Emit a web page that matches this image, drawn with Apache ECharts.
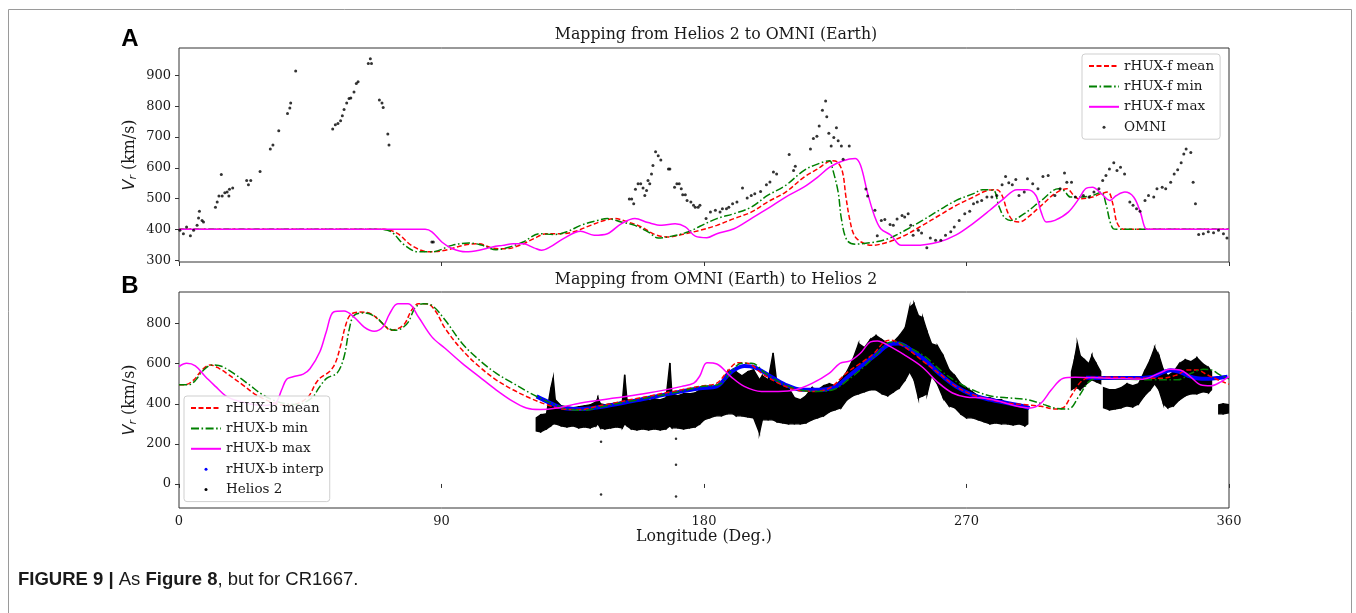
<!DOCTYPE html>
<html lang="en">
<head>
<meta charset="UTF-8">
<title>Figure 9</title>
<script src="https://cdn.jsdelivr.net/npm/echarts@6/dist/echarts.min.js"></script>
<style>
  body { margin: 0; background: #fff; }
  #main { width: 1356px; height: 613px; }
</style>
</head>
<body>
<div id="main"></div>
<script type="text/javascript">
// ---- axis ticks ----
var xTicks = [0, 90, 180, 270, 360];
var yTicksTop = [300, 400, 500, 600, 700, 800, 900];
var yTicksBottom = [0, 200, 400, 600, 800];

// ---- panel A : Helios 2 -> OMNI ----
var omni = [[0.3,397],[1.5,386],[2.6,408],[3.9,379],[5,397],[6.2,413],[6.7,437],[7,459],[7.9,429],[8.4,424],
  [12.5,472],[13.1,489],[13.7,508],[14.5,578],[14.8,508],[15.7,519],[16.5,521],[17.1,508],[17.3,530],[18.4,534],
  [23.2,559],[23.8,545],[24.6,559],[27.8,588],[31.3,661],[32.2,674],[34.2,720],[37.2,776],[38,794],[38.3,810],[40,914],
  [52.7,726],[53.6,740],[54.5,744],[55.4,753],[56,769],[56.6,789],[57.5,810],[58.3,825],[58.9,827],[60,846],[60.8,874],
  [61.4,879],[64.9,939],[66,939],[65.6,954],[68.7,820],[69.6,810],[70,796],[71.6,710],[72,674],[86.7,359],[87.2,359],
  [154.4,499],[155.2,499],[155.9,483],[156.5,530],[157.4,548],[158.3,548],[159.1,534],[159.7,510],[160.3,526],[160.8,559],
  [161.4,548],[162,580],[162.5,607],[163.4,652],[164.3,639],[165.2,625],[167.8,596],[168.3,596],[169.9,537],[170.7,548],
  [171.5,548],[172.2,532],[172.7,512],[173.6,512],[174.2,494],[175.5,489],[176.4,478],[177,472],[178,472],[178.6,478],
  [180.7,435],[182.2,456],[183.9,462],[185.5,456],[186.3,467],[187.7,467],[188.5,472],[189.8,483],[191.3,489],[193.2,534],
  [194.8,502],[196.2,510],[197.4,516],[199.4,523],[201.4,545],[202.6,554],[203.8,586],[204.9,580],[209.2,643],[210.7,591],
  [211.3,605],[216.5,661],[217.5,695],[218.7,702],[219.5,736],[220.6,787],[221.7,817],[222.1,766],[222.8,712],[223.6,671],
  [224.5,698],[225.4,730],[226,688],[227.1,671],[229.8,671],[227.7,628],[235.5,531],[236.1,508],[238.6,462],[239.4,379],
  [240.8,429],[242,432],[243.8,416],[244.9,413],[246.2,434],[247.9,445],[248.8,440],[250,451],[250.9,413],[251.7,381],
  [253.5,397],[254.6,388],[256.4,340],[257.6,372],[259.4,365],[261.2,365],[262.8,381],[264.6,392],[265.8,408],[267.5,429],
  [269.4,451],[271.1,459],[272.4,483],[273.7,489],[275.2,494],[277,505],[278.7,505],[280.4,510],[282.2,545],[283.4,572],
  [284.5,551],[285.7,545],[286.9,562],[288,510],[289.8,521],[290.9,564],[292.7,548],[294.5,532],[296.2,572],[298,575],
  [300.3,510],[302.1,532],[303.6,583],[304.4,553],[306,553],[307.3,505],[310.1,510],[312,505],[313.7,521],[315.4,532],
  [316.7,559],[317.8,575],[319,596],[320.5,616],[321.6,591],[322.8,602],[324.2,580],[326,489],[327.1,478],[328.3,467],
  [329.5,459],[331.2,494],[332.4,510],[334.2,505],[335.3,532],[337.1,537],[338.3,532],[340,553],[341.2,580],[342.4,594],
  [343.6,616],[344.5,645],[345.3,661],[346.9,650],[347.7,553],[348.5,483],[349.6,383],[351.2,386],[352.9,392],[354.7,389],
  [356.4,397],[358.1,386],[359.3,372]];

var fMean = [[0,400],[20,400],[40,400],[60,400],[70.5,400],[75,386],[79.7,348],[85.5,327],[91.3,332],[98.3,350],
  [102.9,353],[107.5,339],[112.1,337],[116.8,348],[121.7,370],[126,386],[130.7,386],[135.4,392],[141.1,413],[145.8,429],
  [149.3,435],[153.9,424],[158.5,408],[163.2,383],[167.8,375],[172.4,383],[178.6,397],[184.4,413],[190.3,435],[196.2,456],
  [201.8,489],[208,521],[214.2,569],[218.9,596],[224,623],[225.8,618],[227.5,586],[228.6,510],[229.9,435],[231.5,381],
  [233.9,359],[237.4,348],[243.2,359],[249,381],[254.9,413],[260.6,445],[266.5,478],[272.4,505],[277,526],[280.4,529],
  [282.2,510],[284.1,456],[285.9,429],[288.2,424],[291.1,440],[295.7,478],[300.3,516],[304.4,532],[306.8,510],[308.5,499],
  [313.2,505],[316.2,516],[318.5,521],[320.3,478],[321.5,424],[323.2,402],[325,400],[340,400],[360,400]];

var fMin = [[0,400],[20,400],[40,400],[60,400],[69.3,400],[72.8,392],[77.4,348],[82,327],[86.7,327],[93.6,348],
  [99.4,356],[104,348],[108.7,334],[113.4,343],[118,359],[123.7,386],[128.4,383],[133,392],[137.7,413],[143.5,429],
  [146.9,435],[151.6,424],[156.3,413],[160.8,392],[164.3,372],[169,378],[174.7,392],[178.6,410],[184.4,435],[190.3,451],
  [196.2,472],[201.8,510],[208,543],[214.2,591],[218.9,612],[223.1,623],[224.1,596],[226,521],[227.1,435],[229,365],
  [231.9,352],[237.4,357],[243.2,370],[249,397],[254.9,429],[260.6,462],[266.5,494],[272.4,516],[275.6,529],[279.3,526],
  [281,478],[282.9,440],[285.1,429],[289.8,451],[295.7,494],[301.5,532],[303.4,526],[305.6,505],[308.5,505],[313.2,510],
  [316.2,521],[317.8,483],[319.1,429],[320.3,402],[321.5,400],[340,400],[360,400]];

var fMax = [[0,400],[20,400],[40,400],[60,400],[80,400],[84.4,400],[86.7,392],[90.1,359],[93.6,338],[98.3,327],
  [102.9,332],[107.5,343],[111,348],[114.6,353],[118,353],[121.7,340],[124.3,332],[127.3,343],[131.8,370],[137.7,394],
  [142.3,381],[146.9,386],[151.6,418],[156.3,435],[160.8,422],[165.5,413],[170.1,418],[173.6,408],[177,378],[181,373],
  [184.4,386],[190.3,402],[196.2,435],[201.8,467],[208,505],[214.2,537],[218.9,569],[223.1,602],[227.7,623],[231.9,630],
  [233.7,607],[236,521],[238.4,445],[240.6,402],[244.1,381],[247.6,348],[252.3,348],[260.5,359],[266.3,381],[272.1,418],
  [278,462],[282.7,499],[287.3,529],[290.9,529],[293.8,510],[295.6,456],[297.4,424],[300.3,429],[304.9,456],[308.5,499],
  [310.8,532],[313.2,537],[316.2,516],[319.1,494],[321.4,510],[324.3,521],[327.3,505],[329.6,456],[331.4,402],[332.5,400],
  [345,400],[360,400]];

// ---- panel B : OMNI -> Helios 2 ----
var bMean = [[0,495],[2,495],[5.1,520],[7.9,569],[10.7,594],[13.7,577],[17.1,544],[21.8,495],[26.4,445],[31,412],
  [34,397],[37,392],[40.5,400],[44.4,437],[46.8,500],[48.5,530],[51.5,560],[53.5,600],[55.4,690],[57.1,790],[58.8,845],
  [61.8,858],[65.8,849],[69.3,808],[72.8,767],[75,775],[77.4,800],[79.7,866],[82.1,899],[85,899],[87.8,866],[91.3,775],
  [97.1,668],[102.9,586],[108.7,520],[114.5,470],[120.3,429],[126,396],[131.8,374],[137.7,371],[143.5,388],[149.3,404],
  [155,421],[160.8,437],[166.6,454],[172.4,470],[178.6,488],[184.4,503],[188,561],[191.5,605],[195,602],[199.7,553],
  [205.5,503],[211.4,470],[217.2,462],[223,478],[228.8,553],[233.6,602],[238.3,652],[241.8,709],[244.1,717],[248.8,684],
  [254.6,618],[260.5,553],[266.3,487],[272.1,445],[278,421],[283.8,404],[289.6,396],[295.5,388],[300.2,374],[303,379],
  [305.8,437],[309.3,511],[312.9,533],[318.6,533],[330.4,528],[337.3,528],[342.1,544],[345.7,569],[349.1,569],[352.6,544],
  [354.9,528],[359,503],[360,498]];

var bMin = [[0,495],[3.2,495],[5.6,516],[7.9,561],[11.4,594],[14.8,586],[19.5,544],[24.1,495],[28.7,445],[33.4,412],
  [37,400],[40.5,396],[43.5,410],[46.1,437],[47.9,478],[50.7,528],[54.2,553],[56.6,635],[58.3,767],[60,841],[63.5,853],
  [67.5,833],[71.1,783],[73.9,767],[76.2,775],[78.6,808],[81.1,882],[83.8,899],[86.7,891],[91.3,817],[97.1,701],
  [102.9,619],[108.7,553],[114.5,503],[120.3,454],[124.9,421],[129.6,391],[134.2,371],[138.8,368],[144.6,384],[150.4,401],
  [156.2,417],[162,434],[167.8,450],[173.6,467],[178.6,485],[185.7,500],[189.3,561],[192.9,602],[196.4,602],[201,553],
  [206.7,503],[212.6,470],[218.4,462],[224.2,470],[230.1,528],[234.9,586],[239.5,652],[243,704],[245.8,709],[249.9,684],
  [255.8,635],[261.6,561],[267.4,503],[273.3,462],[279.1,437],[284.9,429],[290.9,421],[296.6,396],[300.2,379],[304.9,374],
  [308.5,437],[312,511],[314.9,528],[325.1,523],[334.2,520],[342.4,520],[347.1,553],[351.2,572],[353.9,569],[356.9,544],
  [359.2,528],[360,525]];

var bMax = [[0,586],[2.6,602],[5.6,589],[9,536],[12.5,487],[16,440],[20,415],[25,398],[29,392],[32,398],[33.5,410],
  [35.2,470],[36.9,522],[39.1,535],[42.6,548],[44.9,575],[48.3,660],[50.5,760],[53,858],[56.6,863],[60,833],[63.5,783],
  [66.9,762],[69.9,783],[72.2,849],[75,899],[78.6,899],[82.1,833],[86.7,734],[91.3,676],[97.1,602],[102.9,536],[108.7,470],
  [114.5,412],[119.1,379],[123.7,371],[129.6,379],[137.7,404],[149.3,429],[160.8,454],[172.4,487],[176.5,503],[178.6,540],
  [181,605],[184.4,599],[189.2,536],[193.8,487],[199.7,462],[205.5,462],[211.4,470],[217.2,503],[223,553],[226.6,602],
  [230.1,614],[233.6,652],[237.1,709],[239.4,714],[244.1,684],[248.8,643],[254.6,586],[260.5,503],[265.2,454],[269.8,434],
  [275.6,429],[281.5,412],[287.3,388],[292,379],[295.6,404],[299.1,470],[303.2,528],[307.3,533],[318.6,528],[330.4,523],
  [336.2,553],[339.7,572],[343.2,569],[346.7,536],[350.2,495],[353.8,490],[357.4,511],[359.2,528],[360,535]];

var bInterpA = [[122.6,437],[127.3,404],[131.8,379],[137.7,374],[149.3,396],[160.8,429],[172.4,462],[178.6,478],
  [184.4,487],[188,540],[190.3,569],[193.8,589],[197.4,582],[202,544],[207.9,495],[213.7,470],[219.5,470],[225.3,487],
  [230.1,544],[234.9,599],[239.5,652],[243,693],[246.6,701],[251.2,668],[255.8,618],[260.5,553],[266.3,487],[272.1,445],
  [278,421],[283.8,404],[289.6,388],[291.6,379]];
var bInterpB = [[311,530],[320,529],[330,529],[334,535],[337,555],[340,568],[343,560],[346,540],[349,528],[353,525],
  [357,530],[359.5,535]];

// Helios 2 observations: [longitude, low, high] of the dense point cloud, one list per data run
var heliosRuns = [
  [[122.5,265,330],[124,260,345],[126,275,350],[127.5,290,480],[128.3,300,530],[129,300,420],[131,290,390],[133,285,385],
   [135,290,380],[137,280,385],[139,285,390],[141,280,395],[143,290,410],[143.6,300,430],[144.5,280,400],[146,275,395],
   [148,280,400],[150,285,405],[152,280,410],[152.8,300,545],[153.6,290,420],[155,275,415],[157,270,420],[159,275,420],
   [161,270,415],[163,275,425],[165,270,420],[167,275,430],[168.3,290,604],[169,280,450],[171,280,440],[173,275,450],
   [175,280,450],[177,285,455],[178.6,300,470],[180,320,480],[182,330,490],[184,340,480],[186,340,500],[188,350,560],
   [190,350,570],[191,340,560],[193,340,540],[195,335,560],[197,330,570],[199,255,520],[200,320,540],[202,320,520],
   [203.7,320,654],[205,310,500],[207,305,490],[209,300,480],[211,300,430],[213,300,420],[215,305,440],[217,320,480],
   [219,330,470],[221,340,490],[223,360,500],[225,370,490],[227,380,520],[229,420,560],[231,440,620],[233,450,700],
   [235,460,680],[237,470,720],[239,470,740],[241,450,720],[243,440,700],[245,460,710],[247,480,740],[249,520,780],
   [250.5,560,880],[252,520,900],[253.5,430,840],[255,440,830],[256.5,450,760],[258,540,700],[260,500,690],[262,430,640],
   [264,390,570],[266,380,540],[268,350,500],[270,330,480],[272,330,460],[274,320,440],[276,310,430],[278,300,430],
   [280,305,420],[282,300,420],[284,300,400],[286,295,390],[288,300,395],[290,290,380],[291,300,370]],
  [[306,470,560],[307,480,620],[308,480,703],[309,470,640],[310.5,490,620],[312,510,600],[313,520,640],[314.5,510,600],
   [316,500,560]],
  [[317,380,480],[319,370,470],[321,375,470],[323,380,480],[325,390,500],[327,385,490],[329,400,500],[331,440,560],
   [333,470,620],[334.5,500,680],[336,470,640],[337.5,400,570],[339,380,540],[341,390,560],[343,420,600],[345,440,620],
   [347,450,610],[349,450,630],[351,460,600],[353,455,580],[354,470,560]],
  [[356.5,350,395],[358,350,400],[360,355,395]]
];
var heliosOutliers = [[144.7,211],[144.7,-53],[170.4,226],[170.4,96],[170.4,-63]];

// flatten runs with a run id so the band can be drawn piece by piece
var heliosBand = [];
heliosRuns.forEach(function (run, k) {
  run.forEach(function (p) { heliosBand.push([p[0], p[1], p[2], k]); });
});

function renderBand(params, api) {
  var i = params.dataIndex;
  var cur = heliosBand[i], nxt = heliosBand[i + 1];
  if (!nxt || nxt[3] !== cur[3]) return null;
  var pts = [api.coord([cur[0], cur[1]]), api.coord([cur[0], cur[2]]),
             api.coord([nxt[0], nxt[2]]), api.coord([nxt[0], nxt[1]])];
  return {
    type: 'polygon',
    shape: { points: pts },
    style: { fill: '#000', stroke: '#000', lineWidth: 1.4 }
  };
}

var serif = 'DejaVu Serif';
var ink = '#1a1a1a';
var redDash = [5, 2.5];
var greenDashDot = [8, 2.5, 1.6, 2.5];

function curve(name, data, color, dash, xi, z) {
  return {
    name: name, type: 'line', xAxisIndex: xi, yAxisIndex: xi, data: data,
    symbol: 'none', smooth: 0.35, z: z || 4,
    lineStyle: { color: color, width: 1.5, type: dash || 'solid' },
    itemStyle: { color: color }
  };
}

function xAx(idx, withLabels) {
  return {
    gridIndex: idx, type: 'value', min: 0, max: 360, interval: 90,
    axisLine: { show: false },
    axisTick: { show: true, length: 4, lineStyle: { color: '#333' } },
    axisLabel: { show: withLabels, margin: 7, fontFamily: serif, fontSize: 13, color: ink },
    splitLine: { show: false },
    name: withLabels ? 'Longitude (Deg.)' : '',
    nameLocation: 'middle', nameGap: 21,
    nameTextStyle: { fontFamily: serif, fontSize: 15.8, color: ink }
  };
}

function yAx(idx, lo, hi, ticks) {
  return {
    gridIndex: idx, type: 'value', min: lo, max: hi,
    axisLine: { show: false },
    axisTick: { show: true, length: 4, customValues: ticks, lineStyle: { color: '#333' } },
    axisLabel: { customValues: ticks, margin: 8, fontFamily: serif, fontSize: 13, color: ink },
    splitLine: { show: false },
    name: '{v|V}{r|r}{t| (km/s)}',
    nameLocation: 'middle', nameGap: 40, nameMoveOverlap: false,
    nameTextStyle: {
      rich: {
        v: { fontFamily: 'DejaVu Sans', fontStyle: 'italic', fontSize: 16, color: ink },
        r: { fontFamily: 'DejaVu Sans', fontStyle: 'italic', fontSize: 11, color: ink, padding: [7, 0, 0, 0] },
        t: { fontFamily: serif, fontSize: 15.8, color: ink }
      }
    }
  };
}

var legendBase = {
  orient: 'vertical', itemWidth: 30, itemHeight: 3, itemGap: 4.4, z: 10,
  padding: [4, 6, 4, 6], borderColor: '#cfcfcf', borderWidth: 1, borderRadius: 3,
  backgroundColor: 'rgba(255,255,255,0.88)',
  textStyle: { fontFamily: serif, fontSize: 13.5, color: ink, lineHeight: 16 },
  selectedMode: false
};

var myChart = echarts.init(document.getElementById('main'));

var option = {
  animation: false,
  backgroundColor: '#fff',
  grid: [
    { left: 179, top: 48, width: 1050, height: 214, show: true, borderColor: '#333', borderWidth: 1 },
    { left: 179, top: 292, width: 1050, height: 216, show: true, borderColor: '#333', borderWidth: 1 }
  ],
  xAxis: [xAx(0, false), xAx(1, true)],
  yAxis: [yAx(0, 294, 989, yTicksTop), yAx(1, -120, 958, yTicksBottom)],
  legend: [
    echarts.util.merge({
      left: 1082, top: 54,
      data: [
        { name: 'rHUX-f mean', itemStyle: { opacity: 0 } },
        { name: 'rHUX-f min', itemStyle: { opacity: 0 } },
        { name: 'rHUX-f max', itemStyle: { opacity: 0 } },
        { name: 'OMNI', icon: 'circle' }
      ]
    }, legendBase, false),
    echarts.util.merge({
      left: 184, top: 396,
      data: [
        { name: 'rHUX-b mean', itemStyle: { opacity: 0 } },
        { name: 'rHUX-b min', itemStyle: { opacity: 0 } },
        { name: 'rHUX-b max', itemStyle: { opacity: 0 } },
        { name: 'rHUX-b interp', icon: 'circle', itemStyle: { color: '#0000ff' } },
        { name: 'Helios 2', icon: 'circle', itemStyle: { color: '#000' } }
      ]
    }, legendBase, false)
  ],
  graphic: [
    { type: 'rect', silent: true, shape: { x: 8.5, y: 9.5, width: 1343, height: 640 },
      style: { fill: 'none', stroke: '#9a9a9a', lineWidth: 1 } },
    { type: 'text', x: 716, y: 35, style: { text: 'Mapping from Helios 2 to OMNI (Earth)', font: '15.8px "DejaVu Serif"',
      fill: ink, align: 'center', verticalAlign: 'middle' } },
    { type: 'text', x: 716, y: 280, style: { text: 'Mapping from OMNI (Earth) to Helios 2', font: '15.8px "DejaVu Serif"',
      fill: ink, align: 'center', verticalAlign: 'middle' } },
    { type: 'text', x: 130, y: 39, style: { text: 'A', font: 'bold 24px "Liberation Sans"', fill: '#000',
      align: 'center', verticalAlign: 'middle' } },
    { type: 'text', x: 130, y: 286, style: { text: 'B', font: 'bold 24px "Liberation Sans"', fill: '#000',
      align: 'center', verticalAlign: 'middle' } },
    { type: 'text', x: 18, y: 580, style: {
      text: '{b|FIGURE 9 | }{n|As }{b|Figure 8}{n|, but for CR1667.}',
      verticalAlign: 'middle',
      rich: {
        b: { fontFamily: 'Liberation Sans', fontWeight: 'bold', fontSize: 18.5, fill: '#1a1a1a' },
        n: { fontFamily: 'Liberation Sans', fontSize: 18.5, fill: '#1a1a1a' }
      } } }
  ],
  series: [
    curve('rHUX-f mean', fMean, '#ff0000', redDash, 0, 4),
    curve('rHUX-f min', fMin, '#008000', greenDashDot, 0, 4),
    curve('rHUX-f max', fMax, '#ff00ff', 'solid', 0, 4),
    { name: 'OMNI', type: 'scatter', xAxisIndex: 0, yAxisIndex: 0, data: omni,
      symbol: 'circle', symbolSize: 3, itemStyle: { color: '#000' }, z: 5 },

    { name: 'Helios 2', type: 'custom', xAxisIndex: 1, yAxisIndex: 1, data: heliosBand,
      dimensions: ['x', 'lo', 'hi', 'run'], encode: { x: 0, y: [1, 2] },
      renderItem: renderBand, itemStyle: { color: '#000' }, clip: true, z: 2 },
    { name: 'Helios 2', type: 'scatter', xAxisIndex: 1, yAxisIndex: 1, data: heliosOutliers,
      symbol: 'circle', symbolSize: 2.5, itemStyle: { color: '#000' }, z: 2 },
    { name: 'rHUX-b interp', type: 'line', xAxisIndex: 1, yAxisIndex: 1, data: bInterpA,
      symbol: 'none', smooth: 0.35, lineStyle: { color: '#0000ff', width: 4 }, itemStyle: { color: '#0000ff' }, z: 3 },
    { name: 'rHUX-b interp', type: 'line', xAxisIndex: 1, yAxisIndex: 1, data: bInterpB,
      symbol: 'none', smooth: 0.35, lineStyle: { color: '#0000ff', width: 4 }, itemStyle: { color: '#0000ff' }, z: 3 },
    curve('rHUX-b mean', bMean, '#ff0000', redDash, 1, 4),
    curve('rHUX-b min', bMin, '#008000', greenDashDot, 1, 4),
    curve('rHUX-b max', bMax, '#ff00ff', 'solid', 1, 4)
  ]
};

myChart.setOption(option);
</script>
</body>
</html>
